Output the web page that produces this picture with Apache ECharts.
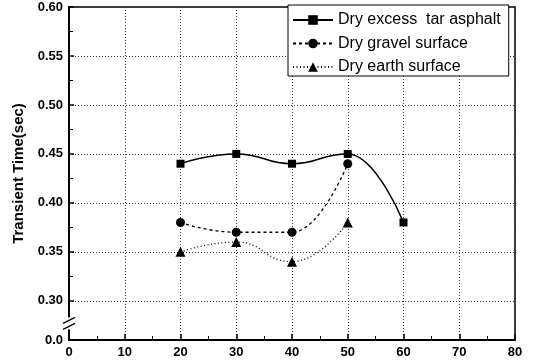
<!DOCTYPE html>
<html>
<head>
<meta charset="utf-8">
<script src="https://cdn.jsdelivr.net/npm/echarts@6/dist/echarts.min.js"></script>
<style>
  html, body { margin: 0; padding: 0; background: #fff; }
  #grafico { width: 534px; height: 364px; }
</style>
</head>
<body>
<div id="grafico"></div>
<script>
// speeds on the x axis
var xValues = [20, 30, 40, 50, 60];
var asphalt = [0.44, 0.45, 0.44, 0.45, 0.38];
var gravel = [0.38, 0.37, 0.37, 0.44];
var earth = [0.35, 0.36, 0.34, 0.38];
var seriesNames = ['Dry excess  tar asphalt', 'Dry gravel surface', 'Dry earth surface'];

// the axis is broken: its bottom end (0.26) is labelled 0.0
var breakValue = 0.26;

function pairs(vals) {
  return vals.map(function (v, i) { return [xValues[i], v]; });
}

var chartDom = document.getElementById('grafico');
var myChart = echarts.init(chartDom);
var font = 'Liberation Sans, Arial, sans-serif';

var option = {
  animation: false,
  backgroundColor: '#fff',
  grid: {
    left: 69, right: 19, top: 7, bottom: 24,
    show: true, borderColor: '#000', borderWidth: 1.5
  },
  legend: {
    data: seriesNames,
    orient: 'vertical',
    left: 288, top: 5,
    padding: [7, 8, 1, 4],
    itemWidth: 40, itemHeight: 12, itemGap: 7.5,
    borderColor: '#000', borderWidth: 1,
    backgroundColor: '#fff',
    textStyle: { fontFamily: font, fontSize: 16, color: '#000' }
  },
  xAxis: {
    type: 'value', min: 0, max: 80, interval: 10,
    axisLine: { lineStyle: { color: '#000', width: 2 } },
    axisTick: { inside: true, length: 6, lineStyle: { color: '#000', width: 1.5 } },
    minorTick: { show: true, splitNumber: 2, length: 4, lineStyle: { color: '#000', width: 1 } },
    axisLabel: { fontFamily: font, fontWeight: 'bold', fontSize: 13, color: '#000', margin: 6 },
    splitLine: { lineStyle: { type: [1, 2], color: '#333', width: 1 } }
  },
  yAxis: {
    type: 'value', min: breakValue, max: 0.6,
    name: 'Transient Time(sec)', nameLocation: 'middle', nameGap: 40,
    nameTextStyle: { fontFamily: font, fontWeight: 'bold', fontSize: 15, color: '#000' },
    axisLine: { lineStyle: { color: '#000', width: 2 } },
    axisTick: { inside: true, length: 5, lineStyle: { color: '#000', width: 1.5 } },
    minorTick: { show: true, splitNumber: 2, length: 4, lineStyle: { color: '#000', width: 1 } },
    axisLabel: {
      fontFamily: font, fontWeight: 'bold', fontSize: 13, color: '#000', margin: 6,
      formatter: function (v) { return Math.abs(v - breakValue) < 1e-9 ? '0.0' : v.toFixed(2); }
    },
    splitLine: { lineStyle: { type: [1, 2], color: '#333', width: 1 } }
  },
  series: [
    {
      name: seriesNames[0], type: 'line', data: pairs(asphalt),
      smooth: 0.5, smoothMonotone: 'x',
      symbol: 'rect', symbolSize: 8,
      lineStyle: { color: '#000', width: 1.5 },
      itemStyle: { color: '#000' }
    },
    {
      name: seriesNames[1], type: 'line', data: pairs(gravel),
      smooth: 0.5, smoothMonotone: 'x',
      symbol: 'circle', symbolSize: 9,
      lineStyle: { color: '#000', width: 1.3, type: [3, 3] },
      itemStyle: { color: '#000' }
    },
    {
      name: seriesNames[2], type: 'line', data: pairs(earth),
      smooth: 0.5, smoothMonotone: 'x',
      symbol: 'triangle', symbolSize: 10,
      lineStyle: { color: '#000', width: 1.3, type: [1, 2.5] },
      itemStyle: { color: '#000' }
    }
  ]
};

option && myChart.setOption(option);

// axis break mark between 0.0 and 0.30
var ax = myChart.convertToPixel({ gridIndex: 0 }, [0, 0.30]);
var bx = myChart.convertToPixel({ gridIndex: 0 }, [0, breakValue]);
var midY = (ax[1] + bx[1]) / 2 + 5;
myChart.setOption({
  graphic: [
    { type: 'rect', shape: { x: ax[0] - 5, y: midY - 8, width: 10, height: 12 }, style: { fill: '#fff' }, z: 100 },
    { type: 'line', shape: { x1: ax[0] - 6, y1: midY - 2, x2: ax[0] + 6, y2: midY - 8 }, style: { stroke: '#000', lineWidth: 1.5 }, z: 101 },
    { type: 'line', shape: { x1: ax[0] - 6, y1: midY + 4, x2: ax[0] + 6, y2: midY - 2 }, style: { stroke: '#000', lineWidth: 1.5 }, z: 101 }
  ]
});
</script>
</body>
</html>
